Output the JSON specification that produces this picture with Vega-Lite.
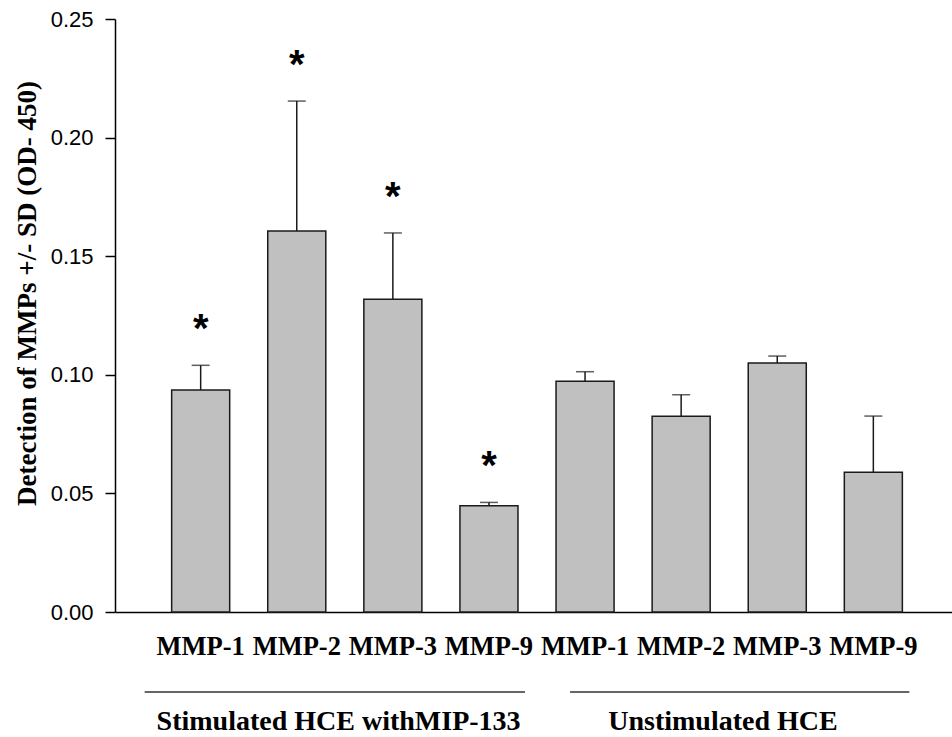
{
  "$schema": "https://vega.github.io/schema/vega-lite/v6.json",
  "width": 837,
  "height": 593,
  "autosize": "none",
  "padding": {"left": 115, "top": 19, "right": 0, "bottom": 125},
  "background": "white",
  "config": {"view": {"stroke": null}},
  "datasets": {
    "bars": [
      {"key": "S|MMP-1", "mmp": "MMP-1", "group": "Stimulated HCE withMIP-133", "mean": 0.0936, "upper": 0.104, "sig": "*"},
      {"key": "S|MMP-2", "mmp": "MMP-2", "group": "Stimulated HCE withMIP-133", "mean": 0.1606, "upper": 0.2154, "sig": "*"},
      {"key": "S|MMP-3", "mmp": "MMP-3", "group": "Stimulated HCE withMIP-133", "mean": 0.1318, "upper": 0.1598, "sig": "*"},
      {"key": "S|MMP-9", "mmp": "MMP-9", "group": "Stimulated HCE withMIP-133", "mean": 0.0448, "upper": 0.0462, "sig": "*"},
      {"key": "U|MMP-1", "mmp": "MMP-1", "group": "Unstimulated HCE", "mean": 0.0973, "upper": 0.1013, "sig": ""},
      {"key": "U|MMP-2", "mmp": "MMP-2", "group": "Unstimulated HCE", "mean": 0.0825, "upper": 0.0916, "sig": ""},
      {"key": "U|MMP-3", "mmp": "MMP-3", "group": "Unstimulated HCE", "mean": 0.105, "upper": 0.1079, "sig": ""},
      {"key": "U|MMP-9", "mmp": "MMP-9", "group": "Unstimulated HCE", "mean": 0.0589, "upper": 0.0826, "sig": ""}
    ],
    "groups": [
      {"group": "Stimulated HCE withMIP-133", "first": "S|MMP-1", "last": "S|MMP-9", "mid": "S|MMP-2"},
      {"group": "Unstimulated HCE", "first": "U|MMP-1", "last": "U|MMP-9", "mid": "U|MMP-2"}
    ]
  },
  "layer": [
    {
      "data": {"name": "bars"},
      "mark": {"type": "bar", "fill": "#c0c0c0", "stroke": "#1a1a1a", "strokeWidth": 1.5},
      "encoding": {
        "x": {
          "field": "key", "type": "nominal", "sort": null,
          "scale": {"paddingInner": 0.396, "paddingOuter": 0.553, "align": 0.533},
          "axis": {
            "title": null, "labelAngle": 0, "ticks": false, "tickSize": 0,
            "labelExpr": "split(datum.label, '|')[1]",
            "labelFont": "Liberation Serif", "labelFontWeight": "bold", "labelFontSize": 26.5,
            "labelColor": "black", "labelBaseline": "alphabetic", "labelPadding": 42,
            "domainColor": "black", "domainWidth": 1.5, "labelOverlap": false
          }
        },
        "y": {
          "field": "mean", "type": "quantitative",
          "scale": {"domain": [0, 0.25], "nice": false, "zero": true},
          "axis": {
            "values": [0, 0.05, 0.1, 0.15, 0.2, 0.25], "format": ".2f", "grid": false,
            "tickSize": 10, "tickColor": "black", "tickWidth": 1.5, "labelPadding": 12,
            "labelFont": "Liberation Sans", "labelFontSize": 22, "labelColor": "black",
            "domainColor": "black", "domainWidth": 1.5,
            "title": "Detection of MMPs +/- SD (OD- 450)",
            "titleFont": "Liberation Serif", "titleFontWeight": "bold", "titleFontSize": 27, "titleColor": "black",
            "titleX": -80, "titleY": 274, "titleAngle": -90, "titleBaseline": "alphabetic", "titleAlign": "center"
          }
        }
      }
    },
    {
      "data": {"name": "bars"},
      "mark": {"type": "rule", "color": "#1a1a1a", "strokeWidth": 1.5},
      "encoding": {
        "x": {"field": "key", "type": "nominal", "sort": null},
        "y": {"field": "mean", "type": "quantitative"},
        "y2": {"field": "upper"}
      }
    },
    {
      "data": {"name": "bars"},
      "mark": {"type": "tick", "color": "#1a1a1a", "thickness": 1.5, "size": 18, "orient": "horizontal"},
      "encoding": {
        "x": {"field": "key", "type": "nominal", "sort": null},
        "y": {"field": "upper", "type": "quantitative"}
      }
    },
    {
      "data": {"name": "bars"},
      "transform": [{"filter": "datum.sig != ''"}],
      "mark": {"type": "text", "font": "Liberation Sans", "fontWeight": "bold", "fontSize": 40, "baseline": "alphabetic", "align": "center", "dy": -23, "color": "black"},
      "encoding": {
        "x": {"field": "key", "type": "nominal", "sort": null},
        "y": {"field": "upper", "type": "quantitative"},
        "text": {"field": "sig"}
      }
    },
    {
      "mark": {"type": "rule", "color": "#222222", "strokeWidth": 1.5},
      "encoding": {"y": {"datum": 0.25}}
    },
    {
      "data": {"name": "groups"},
      "transform": [{"filter": "datum.first == 'S|MMP-1'"}],
      "mark": {"type": "rule", "color": "#333333", "strokeWidth": 1.5, "clip": false, "xOffset": -56, "x2Offset": 36},
      "encoding": {
        "x": {"field": "first", "type": "nominal"},
        "x2": {"field": "last"},
        "y": {"datum": -0.0337}
      }
    },
    {
      "data": {"name": "groups"},
      "transform": [{"filter": "datum.first == 'U|MMP-1'"}],
      "mark": {"type": "rule", "color": "#333333", "strokeWidth": 1.5, "clip": false, "xOffset": -15, "x2Offset": 36},
      "encoding": {
        "x": {"field": "first", "type": "nominal"},
        "x2": {"field": "last"},
        "y": {"datum": -0.0337}
      }
    },
    {
      "data": {"name": "groups"},
      "mark": {"type": "text", "font": "Liberation Serif", "fontWeight": "bold", "fontSize": 28, "baseline": "alphabetic", "align": "center", "color": "black", "clip": false},
      "encoding": {
        "x": {"field": "mid", "type": "nominal", "bandPosition": 1.22},
        "y": {"datum": -0.0497},
        "text": {"field": "group"}
      }
    }
  ]
}
